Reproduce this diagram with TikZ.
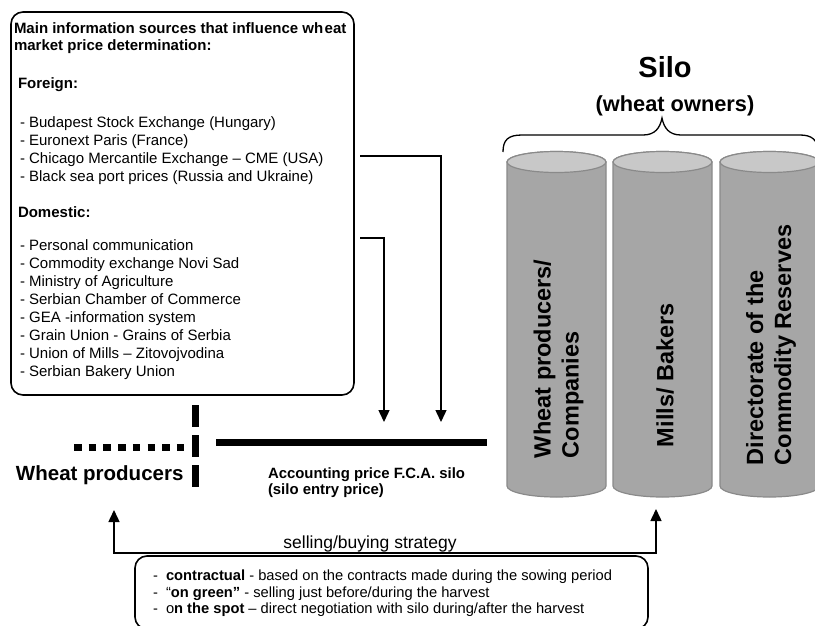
\documentclass[tikz,border=0pt]{standalone}
\usepackage{fontspec}
\setmainfont{Liberation Sans}
\usetikzlibrary{arrows.meta}
\definecolor{cylbody}{HTML}{A6A6A6}
\definecolor{cyltop}{HTML}{C8C8C8}
\definecolor{cyledge}{HTML}{8A8A8A}
\begin{document}
\begin{tikzpicture}[x=1pt,y=1pt,
  every node/.style={inner sep=0pt, outer sep=0pt},
  boxtxt/.style={anchor=base west, font=\fontsize{15}{17}\selectfont},
  boxhead/.style={anchor=base west, font=\fontsize{15}{18}\selectfont\bfseries},
  btxt/.style={anchor=base west, font=\fontsize{14.7}{16}\selectfont},
  roundbox/.style={draw, line width=1.6pt, rounded corners=12pt},
  conn/.style={line width=1.4pt, -{Triangle[length=12pt,width=11pt]}},
  heavy/.style={line width=7pt},
  cyl/.style={fill=cylbody, draw=cyledge, line width=1.2pt},
  cyltext/.style={rotate=90, anchor=west, align=left, font=\fontsize{23.5}{28}\selectfont\bfseries},
  ]
\clip (0,0) rectangle (815,-625);
\fill[white] (0,0) rectangle (815,-625);

% ---------- information box ----------
\node[roundbox, anchor=north west, minimum width=343pt, minimum height=383pt] (info) at (11,-12) {};
\node[boxhead] (h1) at (14,-33) {Main information sources that influence wh\kern1.5pt eat};
\node[boxhead] (h2) at (14,-50) {market price determination:};
\node[boxhead] (fh) at (18,-88) {Foreign:};
\foreach \t/\y [count=\i] in {%
  {- Budapest Stock Exchange (Hungary)}/127,
  {- Euronext Paris (France)}/145,
  {- Chicago Mercantile Exchange – CME (USA)}/163,
  {- Black sea port prices (Russia and Ukraine)}/181}
  \node[boxtxt] (f\i) at (20,-\y) {\t};
\node[boxhead] (dh) at (18,-217) {Domestic:};
\foreach \t/\y [count=\i] in {%
  {- Personal communication}/250,
  {- Commodity exchange Novi Sad}/268,
  {- Ministry of Agriculture}/286,
  {- Serbian Chamber of Commerce}/304,
  {- GEA -information system}/322,
  {- Grain Union - Grains of Serbia}/340,
  {- Union of Mills – Zitovojvodina}/358,
  {- Serbian Bakery Union}/376}
  \node[boxtxt] (d\i) at (20,-\y) {\t};

% ---------- connectors from the box ----------
\coordinate (fs) at (360,-156);
\coordinate (fe) at (441,-422);
\coordinate (ds) at (360,-238);
\coordinate (de) at (384,-422);
\draw[conn] (fs) -| (fe);
\draw[conn] (ds) -| (de);

% ---------- price line ----------
\coordinate (pl) at (216,-442);
\coordinate (pr) at (487,-442);
\draw[heavy] (pl) -- (pr);
\coordinate (vt) at (195,-405);
\coordinate (vb) at (195,-487);
\draw[heavy, dash pattern=on 22pt off 8pt] (vt) -- (vb);
\coordinate (ql) at (74,-447);
\coordinate (qr) at (185,-447);
\draw[heavy, dash pattern=on 7.5pt off 7.2pt] (ql) -- (qr);

\node[anchor=base west, font=\fontsize{20.5}{24}\selectfont\bfseries] (wp) at (16,-480) {Wheat producers};
\node[anchor=base west, font=\fontsize{14.9}{16}\selectfont\bfseries] (acc) at (268,-478) {Accounting price F.C.A. silo};
\node[anchor=base west, font=\fontsize{14.9}{16}\selectfont\bfseries] (acc2) at (268,-494) {(silo entry price)};

% ---------- silo ----------
\node[anchor=base, font=\fontsize{29}{34}\selectfont\bfseries] (silo) at (665,-77) {Silo};
\node[anchor=base, font=\fontsize{21.8}{25}\selectfont\bfseries] (own) at (675,-111) {(wheat owners)};
\coordinate (bl) at (503,-152);
\coordinate (bt) at (662,-118);
\coordinate (br) at (818,-152);
\draw[line width=1.3pt] (bl) .. controls (503,-140) and (508,-135) .. (522,-135)
  -- (643,-135) .. controls (655,-135) and (660,-128) .. (bt)
  .. controls (664,-128) and (669,-135) .. (681,-135)
  -- (800,-135) .. controls (812,-135) and (818,-140) .. (br);

\foreach \L in {507,613,720}{
  \draw[cyl] (\L,-162) -- (\L,-486) arc (180:360:49.5 and 11) -- (\L+99,-162) arc (0:180:49.5 and 10.5) -- cycle;
  \draw[cyl, fill=cyltop] (\L+49.5,-162) ellipse (49.5 and 10.5);
}
\node[cyltext] (c1) at (558.5,-458) {Wheat producers/\\Companies};
\node[cyltext] (c2) at (665,-447) {Mills/ Bakers};
\node[cyltext] (c3) at (771,-465) {Directorate of the\\Commodity Reserves};

% ---------- strategy ----------
\coordinate (wa) at (114,-510);
\coordinate (wb) at (114,-553);
\coordinate (sb) at (656,-553);
\coordinate (sa) at (656,-509);
\draw[line width=1.5pt, {Triangle[length=12pt,width=11pt]}-{Triangle[length=12pt,width=11pt]}] (wa) -- (wb) -- (sb) -- (sa);
\node[anchor=base, font=\fontsize{17.5}{20}\selectfont] (strat) at (370,-548) {selling/buying strategy};

\node[roundbox, anchor=north west, minimum width=513pt, minimum height=73pt] (sbox) at (135,-556) {};
\node[btxt] (m1) at (153,-580) {-};
\node[btxt] (m2) at (153,-597) {-};
\node[btxt] (m3) at (153,-613) {-};
\node[btxt] (t1) at (166,-580) {\textbf{contractual} - based on the contracts made during the sowing period};
\node[btxt] (t2) at (166,-597) {“\textbf{on green”} - selling just before/during the harvest};
\node[btxt] (t3) at (166,-613) {o\textbf{n the spot} – direct negotiation with silo during/after the harvest};
\end{tikzpicture}
\end{document}
